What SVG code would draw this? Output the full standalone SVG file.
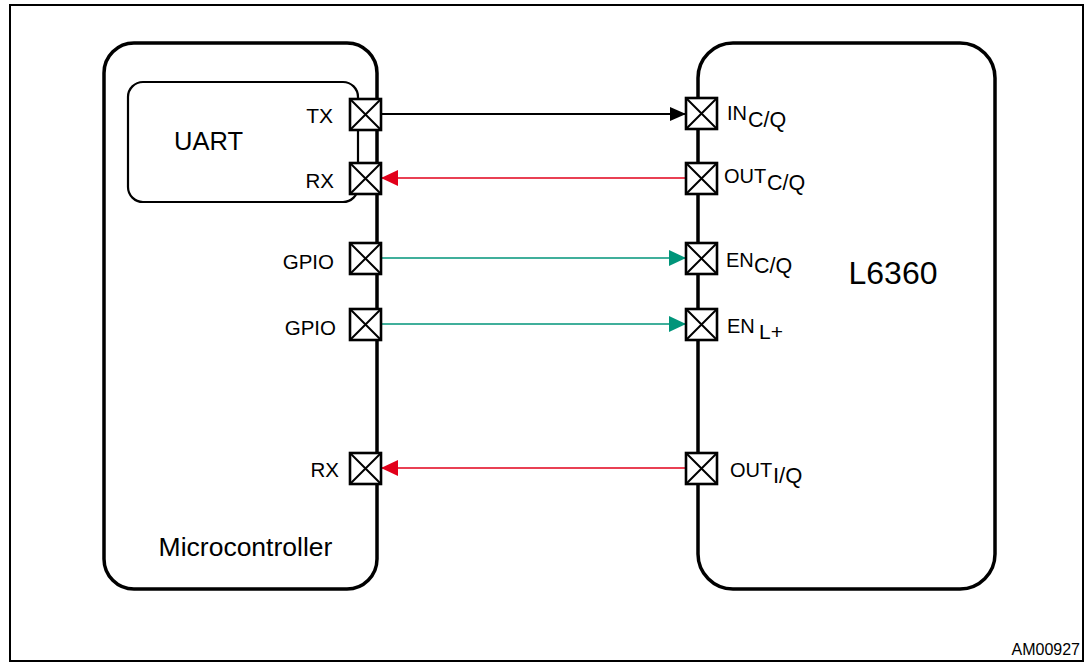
<svg xmlns="http://www.w3.org/2000/svg" width="1086" height="663" viewBox="0 0 1086 663">
<defs>
<style>
.blk{fill:none;stroke:#000;stroke-width:3.5}
.uart{fill:none;stroke:#000;stroke-width:2.2}
.pin rect{fill:#fff;stroke:#000;stroke-width:2.6}
.pin path{stroke:#000;stroke-width:2;fill:none}
.t{font-family:"Liberation Sans",Arial,sans-serif;fill:#000}
.c-blk{stroke:#000;stroke-width:2;fill:none}
.c-red{stroke:#e2001a;stroke-width:1.4;fill:none}
.c-grn{stroke:#00957a;stroke-width:1.4;fill:none}
</style>
<marker id="ab" markerWidth="16" markerHeight="14" refX="16" refY="7" orient="auto" markerUnits="userSpaceOnUse"><path d="M0,0 L16,7 L0,14 Z" fill="#000"/></marker>
<marker id="ar" markerWidth="17" markerHeight="16" refX="17" refY="8" orient="auto" markerUnits="userSpaceOnUse"><path d="M0,0 L17,8 L0,16 Z" fill="#e2001a"/></marker>
<marker id="ag" markerWidth="17" markerHeight="16" refX="17" refY="8" orient="auto" markerUnits="userSpaceOnUse"><path d="M0,0 L17,8 L0,16 Z" fill="#00957a"/></marker>
</defs>
<rect x="0" y="0" width="1086" height="663" fill="#fff"/>
<rect x="10" y="5" width="1073" height="656" fill="none" stroke="#000" stroke-width="2"/>

<g id="microcontroller">
<rect class="blk" x="104" y="43" width="273" height="546" rx="30"/>
<text class="t" x="245.5" y="556" font-size="26.5" text-anchor="middle">Microcontroller</text>
</g>
<g id="uart">
<rect class="uart" x="128" y="82" width="230" height="120" rx="15"/>
<text class="t" x="208.5" y="150" font-size="25.5" text-anchor="middle">UART</text>
</g>
<g id="l6360">
<rect class="blk" x="698" y="43" width="297" height="546" rx="35"/>
<text class="t" x="893" y="284" font-size="32" text-anchor="middle">L6360</text>
</g>

<g id="connectors">
<line class="c-blk" x1="381" y1="114" x2="686" y2="114" marker-end="url(#ab)"/>
<line class="c-red" x1="686" y1="178" x2="381" y2="178" marker-end="url(#ar)"/>
<line class="c-grn" x1="381" y1="258" x2="686" y2="258" marker-end="url(#ag)"/>
<line class="c-grn" x1="381" y1="324" x2="686" y2="324" marker-end="url(#ag)"/>
<line class="c-red" x1="686" y1="468" x2="381" y2="468" marker-end="url(#ar)"/>
</g>

<g id="pin-tx" class="pin"><rect x="350" y="99" width="31" height="31"/><path d="M350,99 L381,130 M381,99 L350,130"/><text class="t" x="333" y="123" font-size="21" text-anchor="end">TX</text></g>
<g id="pin-rx1" class="pin"><rect x="350" y="163" width="31" height="31"/><path d="M350,163 L381,194 M381,163 L350,194"/><text class="t" x="334" y="188" font-size="20.5" text-anchor="end">RX</text></g>
<g id="pin-gpio1" class="pin"><rect x="350" y="243" width="31" height="31"/><path d="M350,243 L381,274 M381,243 L350,274"/><text class="t" x="334" y="269" font-size="20.5" text-anchor="end">GPIO</text></g>
<g id="pin-gpio2" class="pin"><rect x="350" y="309" width="31" height="31"/><path d="M350,309 L381,340 M381,309 L350,340"/><text class="t" x="336" y="335" font-size="20.5" text-anchor="end">GPIO</text></g>
<g id="pin-rx2" class="pin"><rect x="350" y="453" width="31" height="31"/><path d="M350,453 L381,484 M381,453 L350,484"/><text class="t" x="339" y="477" font-size="20.5" text-anchor="end">RX</text></g>

<g id="pin-in-cq" class="pin"><rect x="686" y="98" width="31" height="31"/><path d="M686,98 L717,129 M717,98 L686,129"/><text class="t" x="727" y="120" font-size="20">IN</text><text class="t" x="748" y="127" font-size="21.5">C/Q</text></g>
<g id="pin-out-cq" class="pin"><rect x="686" y="163" width="31" height="31"/><path d="M686,163 L717,194 M717,163 L686,194"/><text class="t" x="724" y="183" font-size="20">OUT</text><text class="t" x="767" y="190" font-size="21.5">C/Q</text></g>
<g id="pin-en-cq" class="pin"><rect x="686" y="243" width="31" height="31"/><path d="M686,243 L717,274 M717,243 L686,274"/><text class="t" x="726" y="267" font-size="20">EN</text><text class="t" x="754" y="273" font-size="21.5">C/Q</text></g>
<g id="pin-en-l" class="pin"><rect x="686" y="309" width="31" height="31"/><path d="M686,309 L717,340 M717,309 L686,340"/><text class="t" x="727" y="333" font-size="20">EN</text><text class="t" x="759" y="339" font-size="21">L+</text></g>
<g id="pin-out-iq" class="pin"><rect x="686" y="453" width="31" height="31"/><path d="M686,453 L717,484 M717,453 L686,484"/><text class="t" x="730" y="477" font-size="20">OUT</text><text class="t" x="773" y="483" font-size="22">I/Q</text></g>

<text class="t" x="1080" y="655" font-size="16" text-anchor="end">AM00927</text>
</svg>
